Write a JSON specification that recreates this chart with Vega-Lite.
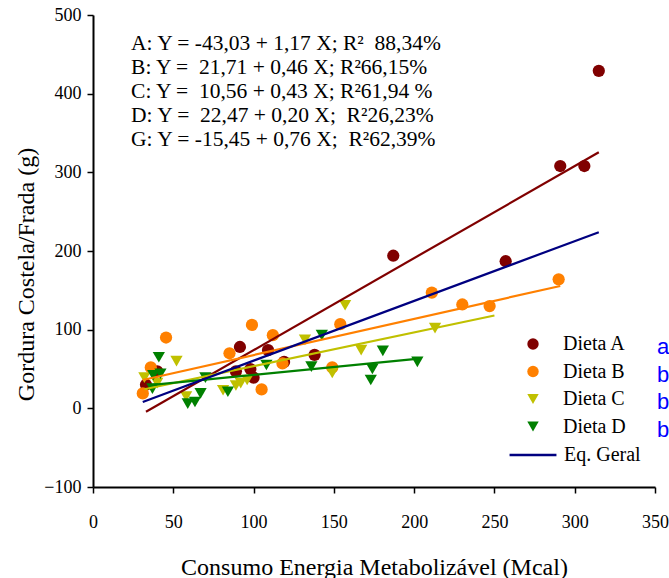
{
  "$schema": "https://vega.github.io/schema/vega-lite/v6.json",
  "width": 562,
  "height": 472,
  "autosize": {"type": "none"},
  "padding": {"left": 93, "top": 15, "right": 14, "bottom": 91},
  "background": "white",
  "config": {
    "view": {"stroke": null},
    "font": "Liberation Serif",
    "axis": {
      "grid": false,
      "domainColor": "black",
      "domainWidth": 2,
      "tickColor": "black",
      "tickWidth": 1.5,
      "tickSize": 6,
      "labelFont": "Liberation Serif",
      "labelFontSize": 18,
      "labelColor": "black",
      "labelFlush": false,
      "labelOverlap": false,
      "titleFont": "Liberation Serif",
      "titleFontSize": 24,
      "titleFontWeight": "normal",
      "titleColor": "black"
    }
  },
  "datasets": {
    "pontos": [
      {"dieta": "Dieta A", "consumo": 33, "gordura": 30},
      {"dieta": "Dieta A", "consumo": 40, "gordura": 47},
      {"dieta": "Dieta A", "consumo": 89, "gordura": 47},
      {"dieta": "Dieta A", "consumo": 91.5, "gordura": 78},
      {"dieta": "Dieta A", "consumo": 98, "gordura": 50},
      {"dieta": "Dieta A", "consumo": 100, "gordura": 39},
      {"dieta": "Dieta A", "consumo": 109, "gordura": 74},
      {"dieta": "Dieta A", "consumo": 119, "gordura": 59},
      {"dieta": "Dieta A", "consumo": 138, "gordura": 68},
      {"dieta": "Dieta A", "consumo": 187, "gordura": 194},
      {"dieta": "Dieta A", "consumo": 257, "gordura": 187},
      {"dieta": "Dieta A", "consumo": 291, "gordura": 308},
      {"dieta": "Dieta A", "consumo": 306, "gordura": 308},
      {"dieta": "Dieta A", "consumo": 315, "gordura": 429},
      {"dieta": "Dieta B", "consumo": 31, "gordura": 19},
      {"dieta": "Dieta B", "consumo": 36, "gordura": 52},
      {"dieta": "Dieta B", "consumo": 45.5, "gordura": 90},
      {"dieta": "Dieta B", "consumo": 85, "gordura": 70},
      {"dieta": "Dieta B", "consumo": 99, "gordura": 106},
      {"dieta": "Dieta B", "consumo": 105, "gordura": 24},
      {"dieta": "Dieta B", "consumo": 112, "gordura": 93},
      {"dieta": "Dieta B", "consumo": 118, "gordura": 57},
      {"dieta": "Dieta B", "consumo": 149, "gordura": 52},
      {"dieta": "Dieta B", "consumo": 154, "gordura": 107},
      {"dieta": "Dieta B", "consumo": 211, "gordura": 147},
      {"dieta": "Dieta B", "consumo": 230, "gordura": 132},
      {"dieta": "Dieta B", "consumo": 247, "gordura": 130},
      {"dieta": "Dieta B", "consumo": 290, "gordura": 164},
      {"dieta": "Dieta C", "consumo": 32, "gordura": 39},
      {"dieta": "Dieta C", "consumo": 40, "gordura": 32},
      {"dieta": "Dieta C", "consumo": 52, "gordura": 60},
      {"dieta": "Dieta C", "consumo": 58, "gordura": 15},
      {"dieta": "Dieta C", "consumo": 81, "gordura": 23},
      {"dieta": "Dieta C", "consumo": 89, "gordura": 29},
      {"dieta": "Dieta C", "consumo": 92, "gordura": 32},
      {"dieta": "Dieta C", "consumo": 96, "gordura": 36},
      {"dieta": "Dieta C", "consumo": 132, "gordura": 87},
      {"dieta": "Dieta C", "consumo": 149, "gordura": 45},
      {"dieta": "Dieta C", "consumo": 157, "gordura": 131},
      {"dieta": "Dieta C", "consumo": 167, "gordura": 74},
      {"dieta": "Dieta C", "consumo": 213, "gordura": 102},
      {"dieta": "Dieta D", "consumo": 37, "gordura": 25},
      {"dieta": "Dieta D", "consumo": 37.5, "gordura": 42},
      {"dieta": "Dieta D", "consumo": 41, "gordura": 65},
      {"dieta": "Dieta D", "consumo": 42, "gordura": 44},
      {"dieta": "Dieta D", "consumo": 59, "gordura": 6},
      {"dieta": "Dieta D", "consumo": 63.5, "gordura": 8},
      {"dieta": "Dieta D", "consumo": 67, "gordura": 19},
      {"dieta": "Dieta D", "consumo": 70, "gordura": 39},
      {"dieta": "Dieta D", "consumo": 84, "gordura": 21},
      {"dieta": "Dieta D", "consumo": 108, "gordura": 55},
      {"dieta": "Dieta D", "consumo": 136, "gordura": 53},
      {"dieta": "Dieta D", "consumo": 142.5, "gordura": 93},
      {"dieta": "Dieta D", "consumo": 173, "gordura": 36},
      {"dieta": "Dieta D", "consumo": 174, "gordura": 50},
      {"dieta": "Dieta D", "consumo": 180.5, "gordura": 73},
      {"dieta": "Dieta D", "consumo": 202, "gordura": 59}
    ],
    "retas": [
      {"dieta": "Dieta A", "consumo": 33, "gordura": -4.42},
      {"dieta": "Dieta A", "consumo": 315, "gordura": 325.52},
      {"dieta": "Dieta B", "consumo": 31, "gordura": 35.97},
      {"dieta": "Dieta B", "consumo": 291, "gordura": 155.57},
      {"dieta": "Dieta C", "consumo": 32, "gordura": 24.32},
      {"dieta": "Dieta C", "consumo": 250, "gordura": 118.06},
      {"dieta": "Dieta D", "consumo": 37, "gordura": 29.87},
      {"dieta": "Dieta D", "consumo": 203, "gordura": 63.07},
      {"dieta": "Eq. Geral", "consumo": 31, "gordura": 8.11},
      {"dieta": "Eq. Geral", "consumo": 315, "gordura": 223.95}
    ],
    "letras": [
      {"grupo": "A", "letra": "a"},
      {"grupo": "B", "letra": "b"},
      {"grupo": "C", "letra": "b"},
      {"grupo": "D", "letra": "b"}
    ]
  },
  "layer": [
    {
      "data": {"name": "pontos"},
      "mark": {"type": "point", "filled": true, "opacity": 1, "size": 150, "strokeWidth": 0},
      "encoding": {
        "x": {
          "field": "consumo",
          "type": "quantitative",
          "scale": {"domain": [0, 350], "nice": false, "zero": false},
          "axis": {
            "values": [0, 50, 100, 150, 200, 250, 300, 350],
            "title": "Consumo Energia Metabolizável (Mcal)",
            "labelPadding": 20,
            "titleX": 281,
            "titleY": 87,
            "titleBaseline": "alphabetic",
            "titleAlign": "center"
          }
        },
        "y": {
          "field": "gordura",
          "type": "quantitative",
          "scale": {"domain": [-100, 500], "nice": false, "zero": false},
          "axis": {
            "values": [-100, 0, 100, 200, 300, 400, 500],
            "title": "Gordura Costela/Frada (g)",
            "labelPadding": 6,
            "titleAngle": -90,
            "titleX": -60,
            "titleY": 259,
            "titleBaseline": "alphabetic",
            "titleAlign": "center"
          }
        },
        "color": {
          "field": "dieta",
          "type": "nominal",
          "scale": {
            "domain": ["Dieta A", "Dieta B", "Dieta C", "Dieta D"],
            "range": ["#800000", "#FF8000", "#C0C000", "#008000"]
          },
          "legend": {
            "orient": "none",
            "legendX": 430,
            "legendY": 319,
            "title": null,
            "padding": 0,
            "labelFont": "Liberation Serif",
            "labelFontSize": 20,
            "labelColor": "black",
            "labelBaseline": "middle",
            "labelOffset": 20,
            "symbolSize": 130,
            "symbolStrokeWidth": 0,
            "symbolOpacity": 1,
            "rowPadding": 7.5
          }
        },
        "shape": {
          "field": "dieta",
          "type": "nominal",
          "scale": {
            "domain": ["Dieta A", "Dieta B", "Dieta C", "Dieta D"],
            "range": ["circle", "circle", "triangle-down", "triangle-down"]
          }
        }
      }
    },
    {
      "data": {"name": "retas"},
      "mark": {"type": "line", "strokeWidth": 2.2},
      "encoding": {
        "x": {"field": "consumo", "type": "quantitative"},
        "y": {"field": "gordura", "type": "quantitative"},
        "stroke": {
          "field": "dieta",
          "type": "nominal",
          "scale": {
            "domain": ["Dieta A", "Dieta B", "Dieta C", "Dieta D", "Eq. Geral"],
            "range": ["#800000", "#FF8000", "#C0C000", "#008000", "#000080"]
          },
          "legend": {
            "values": ["Eq. Geral"],
            "orient": "none",
            "legendX": 415,
            "legendY": 415,
            "title": null,
            "padding": 0,
            "labelFont": "Liberation Serif",
            "labelFontSize": 20,
            "labelColor": "black",
            "labelBaseline": "middle",
            "labelOffset": 6,
            "symbolType": "stroke",
            "symbolSize": 2200,
            "symbolStrokeWidth": 2.5
          }
        }
      }
    },
    {
      "data": {"values": [{}]},
      "mark": {
        "type": "text",
        "align": "left",
        "baseline": "top",
        "font": "Liberation Serif",
        "fontSize": 21.5,
        "lineHeight": 24,
        "color": "black"
      },
      "encoding": {
        "x": {"datum": 23.7},
        "y": {"datum": 477},
        "text": {
          "value": [
            "A: Y = -43,03 + 1,17 X; R²\u00a0 88,34%",
            "B: Y =\u00a0 21,71 + 0,46 X; R²66,15%",
            "C: Y =\u00a0 10,56 + 0,43 X; R²61,94 %",
            "D: Y =\u00a0 22,47 + 0,20 X;\u00a0 R²26,23%",
            "G: Y = -15,45 + 0,76 X;\u00a0 R²62,39%"
          ]
        }
      }
    },
    {
      "data": {"name": "letras"},
      "mark": {"type": "point", "opacity": 0, "filled": true},
      "encoding": {
        "fill": {
          "field": "grupo",
          "type": "nominal",
          "scale": {
            "domain": ["A", "B", "C", "D"],
            "range": ["#0000FF", "#0000FF", "#0000FF", "#0000FF"]
          },
          "legend": {
            "orient": "none",
            "legendX": 542,
            "legendY": 321,
            "title": null,
            "padding": 0,
            "labelFont": "Liberation Sans",
            "labelFontSize": 22,
            "labelColor": "#0000FF",
            "labelAlign": "left",
            "labelBaseline": "middle",
            "labelOffset": 0,
            "rowPadding": 5.5,
            "symbolSize": 0,
            "symbolStrokeWidth": 0,
            "symbolOpacity": 0,
            "labelExpr": "datum.label === 'A' ? 'a' : 'b'"
          }
        }
      }
    }
  ]
}
